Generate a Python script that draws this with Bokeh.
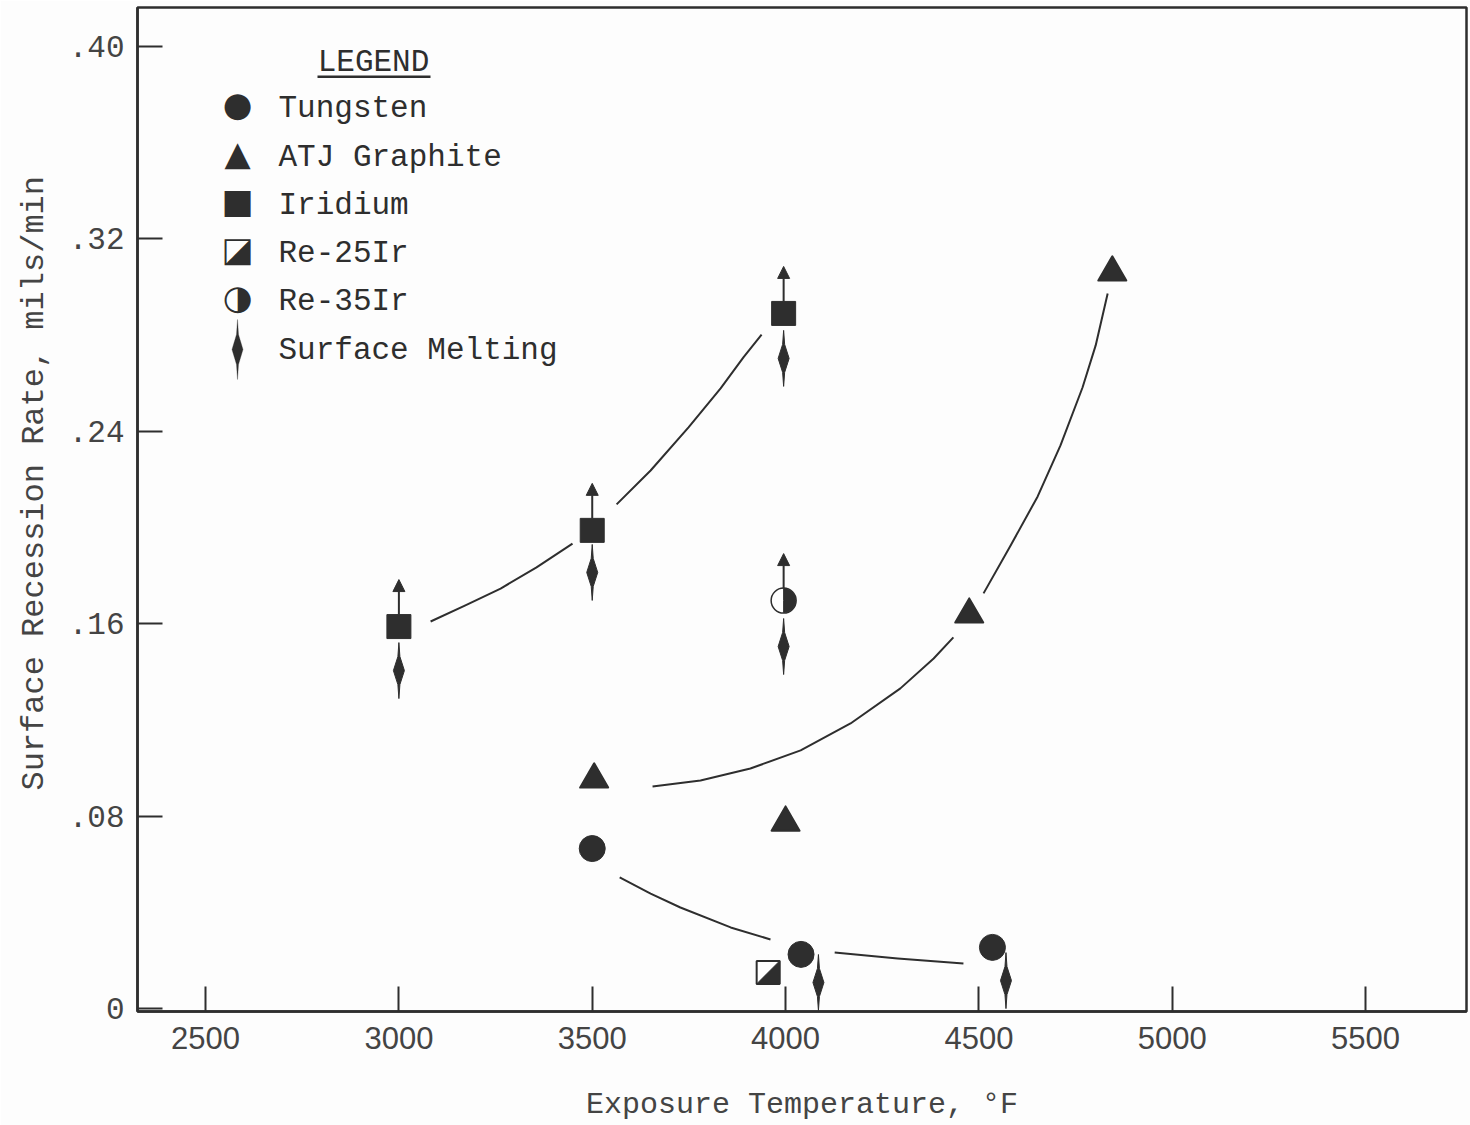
import math
from bokeh.plotting import figure
from bokeh.models import (ColumnDataSource, FixedTicker, Arrow, NormalHead, Label, Title,
                          PolyAnnotation, BoxAnnotation)
from bokeh.embed import file_html
from bokeh.resources import INLINE

# ---------------- data ----------------
tungsten_temp = [3500, 4040, 4535]
tungsten_rate = [0.0665, 0.0225, 0.0254]

graphite_temp = [3505, 4000, 4475, 4845]
graphite_rate = [0.0952, 0.0773, 0.1638, 0.3060]

iridium_temp = [3000, 3500, 3995]
iridium_rate = [0.1588, 0.1988, 0.2890]

re25_temp = [3955]
re25_rate = [0.0150]

re35_temp = [3995]
re35_rate = [0.1696]

# surface-melting marks
melt_temp = [3000, 3500, 3995, 3995, 4085, 4570]
melt_rate = [0.1405, 0.1813, 0.2703, 0.1505, 0.0108, 0.0116]

# faired curves (segments broken around the symbols)
iridium_fit1_temp = [3082, 3172, 3263, 3356, 3449]
iridium_fit1_rate = [0.1609, 0.1676, 0.1746, 0.1834, 0.1933]
iridium_fit2_temp = [3563, 3651, 3749, 3832, 3891, 3938]
iridium_fit2_rate = [0.2096, 0.2237, 0.2416, 0.2578, 0.2707, 0.2802]

graphite_fit1_temp = [3656, 3780, 3909, 4039, 4168, 4297, 4383, 4434]
graphite_fit1_rate = [0.0923, 0.0948, 0.0998, 0.1073, 0.1185, 0.1331, 0.1455, 0.1543]
graphite_fit2_temp = [4512, 4582, 4652, 4711, 4768, 4802, 4833]
graphite_fit2_rate = [0.1726, 0.1925, 0.2129, 0.2341, 0.2582, 0.2757, 0.2973]

tungsten_fit1_temp = [3571, 3651, 3728, 3858, 3961]
tungsten_fit1_rate = [0.0545, 0.0478, 0.0420, 0.0337, 0.0287]
tungsten_fit2_temp = [4127, 4290, 4460]
tungsten_fit2_rate = [0.0233, 0.0208, 0.0187]

x_ticks = [2500, 3000, 3500, 4000, 4500, 5000, 5500]
y_ticks = [0.0, 0.08, 0.16, 0.24, 0.32, 0.40]
y_tick_labels = ["0", ".08", ".16", ".24", ".32", ".40"]

legend_names = ["Tungsten", "ATJ Graphite", "Iridium", "Re-25Ir", "Re-35Ir", "Surface Melting"]

# ---------------- figure ----------------
W, H = 1470, 1125
ML, MR, MT, MB = 137, 4, 7, 114
X0, X1 = 2324, 5761
Y0, Y1 = -0.00125, 0.4162
FW, FH = W - ML - MR, H - MT - MB
DX = (X1 - X0) / FW      # data units per pixel
DY = (Y1 - Y0) / FH

INK = "#2e2e2e"
GREY = "#444444"
BG = "#fdfdfd"
MONO = "Liberation Mono"

p = figure(width=W, height=H, x_range=(X0, X1), y_range=(Y0, Y1),
           output_backend="svg", toolbar_location=None,
           min_border_left=ML, min_border_right=MR, min_border_top=MT, min_border_bottom=MB,
           background_fill_color=BG, border_fill_color=BG)
p.grid.visible = False
p.outline_line_color = INK
p.outline_line_width = 2.5

xa = p.xaxis[0]
xa.ticker = FixedTicker(ticks=x_ticks)
xa.axis_label = "Exposure Temperature, \u00b0F"
xa.axis_label_text_font = MONO
xa.axis_label_text_font_size = "30px"
xa.axis_label_text_font_style = "normal"
xa.axis_label_text_color = GREY
xa.axis_label_standoff = 36
xa.major_label_text_font = "Liberation Sans"
xa.major_label_text_font_size = "31px"
xa.major_label_text_color = GREY
xa.major_label_standoff = 15

ya = p.yaxis[0]
ya.ticker = FixedTicker(ticks=y_ticks)
ya.major_label_overrides = {t: s for t, s in zip(y_ticks, y_tick_labels)}
ya.major_label_text_font = MONO
ya.major_label_text_font_size = "31px"
ya.major_label_text_color = GREY
ya.major_label_standoff = 13

for ax in (xa, ya):
    ax.axis_line_color = INK
    ax.axis_line_width = 2.5
    ax.major_tick_line_color = INK
    ax.major_tick_line_width = 2
    ax.major_tick_in = 25
    ax.major_tick_out = 0
    ax.minor_tick_line_color = None

# y-axis title, placed a little above the frame centre as in the reference
p.add_layout(Title(text="Surface Recession Rate, mils/min", align="left", offset=221,
                   text_font=MONO, text_font_size="32px", text_font_style="normal",
                   text_color=GREY, standoff=26), "left")


def sx(cx):
    return cx - ML


def sy(cy):
    return (MT + FH) - cy


# ---------------- curves ----------------
for xs, ys in [(iridium_fit1_temp, iridium_fit1_rate), (iridium_fit2_temp, iridium_fit2_rate),
               (graphite_fit1_temp, graphite_fit1_rate), (graphite_fit2_temp, graphite_fit2_rate),
               (tungsten_fit1_temp, tungsten_fit1_rate), (tungsten_fit2_temp, tungsten_fit2_rate)]:
    p.line(xs, ys, line_color=INK, line_width=2, line_join="round")

# ---------------- symbols ----------------
p.scatter(tungsten_temp, tungsten_rate, marker="circle", size=26, fill_color=INK, line_color=INK)
p.scatter(graphite_temp, graphite_rate, marker="triangle", size=28, fill_color=INK, line_color=INK,
          line_join="round", line_width=2)
p.scatter(iridium_temp, iridium_rate, marker="square", size=24, fill_color=INK, line_color=INK)

# Re-25Ir : square, lower-right half filled
p.scatter(re25_temp, re25_rate, marker="square", size=23, fill_color="white", line_color=INK, line_width=2)
h = 11.5
p.patches([[x - h * DX, x + h * DX, x + h * DX] for x in re25_temp],
          [[y - h * DY, y - h * DY, y + h * DY] for y in re25_rate],
          fill_color=INK, line_color=INK)

# Re-35Ir : circle, right half filled
p.scatter(re35_temp, re35_rate, marker="circle", size=25, fill_color="white", line_color=INK, line_width=1.5)
p.wedge(re35_temp, re35_rate, radius=12, radius_units="screen",
        start_angle=-math.pi / 2, end_angle=math.pi / 2, direction="anticlock",
        fill_color=INK, line_color=INK)

# surface-melting spindles
sp_w, sp_n, sp_m, sp_h = 5.5, 1.0, 14, 28
p.patches([[x, x + sp_n * DX, x + sp_w * DX, x + sp_n * DX, x, x - sp_n * DX, x - sp_w * DX, x - sp_n * DX]
           for x in melt_temp],
          [[y + sp_h * DY, y + sp_m * DY, y, y - sp_m * DY, y - sp_h * DY, y - sp_m * DY, y, y + sp_m * DY]
           for y in melt_rate],
          fill_color=INK, line_color=INK, line_width=1)

# arrows (rate greater than plotted value)
arr_temp = iridium_temp + re35_temp
arr_rate = iridium_rate + re35_rate
arr_src = ColumnDataSource(dict(x=arr_temp,
                                y0=[r + 12 * DY for r in arr_rate],
                                y1=[r + 47 * DY for r in arr_rate]))
p.add_layout(Arrow(end=NormalHead(size=12, fill_color=INK, line_color=INK),
                   x_start="x", y_start="y0", x_end="x", y_end="y1",
                   source=arr_src, line_color=INK, line_width=2))

# ---------------- legend (drawn in screen units) ----------------
p.add_layout(Label(x=sx(373), y=sy(62), x_units="screen", y_units="screen", text="LEGEND",
                   text_font=MONO, text_font_size="31px", text_color=INK,
                   text_align="center", text_baseline="middle"))
p.add_layout(BoxAnnotation(left=sx(317), right=sx(430), top=sy(75), bottom=sy(77.5),
                           left_units="screen", right_units="screen",
                           top_units="screen", bottom_units="screen",
                           fill_color=INK, fill_alpha=1, line_color=None))

row_y = [108, 157, 205, 253, 301, 350]
symbols = ["\u25cf", "\u25b2", "\u25a0", "\u25ea", "\u25d1"]
for name, ry in zip(legend_names, row_y):
    p.add_layout(Label(x=sx(278), y=sy(ry), x_units="screen", y_units="screen", text=name,
                       text_font=MONO, text_font_size="31px", text_color=INK,
                       text_align="left", text_baseline="middle"))
for sym, ry in zip(symbols, row_y):
    p.add_layout(Label(x=sx(237), y=sy(ry - 5), x_units="screen", y_units="screen", text=sym,
                       text_font="DejaVu Sans", text_font_size="34px", text_color=INK,
                       text_align="center", text_baseline="middle"))

lx, ly = 237, 349
p.add_layout(PolyAnnotation(
    xs=[sx(lx), sx(lx + 1), sx(lx + 5.5), sx(lx + 1), sx(lx), sx(lx - 1), sx(lx - 5.5), sx(lx - 1)],
    ys=[sy(ly - 30), sy(ly - 15), sy(ly), sy(ly + 15), sy(ly + 30), sy(ly + 15), sy(ly), sy(ly - 15)],
    xs_units="screen", ys_units="screen",
    fill_color=INK, fill_alpha=1, line_color=INK, line_width=1))

open("out.html", "w").write(file_html(p, INLINE))
